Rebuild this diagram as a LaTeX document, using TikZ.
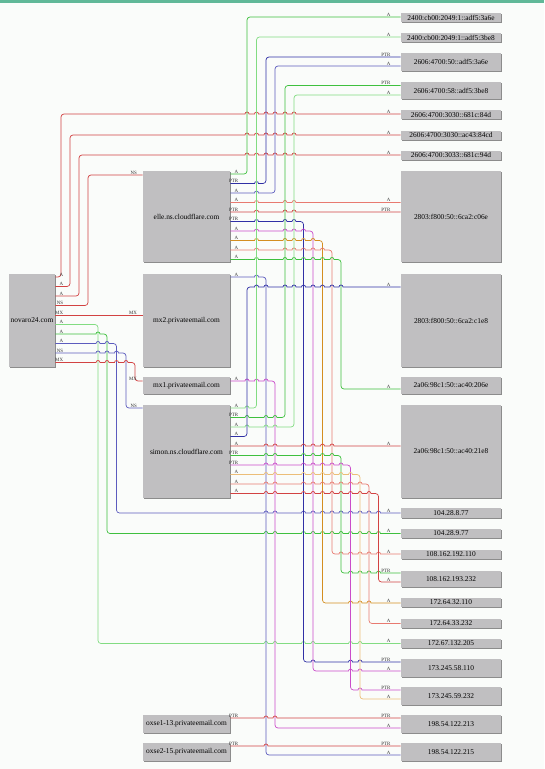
\documentclass[tikz,border=0pt]{standalone}
\usepackage{fontspec}
\setmainfont{Liberation Serif}
\usetikzlibrary{shadows}
\definecolor{paper}{RGB}{250,252,250}
\definecolor{topbar}{RGB}{96,184,152}
\definecolor{boxgray}{RGB}{192,191,193}
\definecolor{ered}{RGB}{210,66,66}
\definecolor{esalmon}{RGB}{232,122,112}
\definecolor{egreen}{RGB}{62,192,62}
\definecolor{elgreen}{RGB}{130,220,130}
\definecolor{eblue}{RGB}{48,48,165}
\definecolor{emblue}{RGB}{92,92,190}
\definecolor{emag}{RGB}{202,76,202}
\definecolor{eorange}{RGB}{212,142,32}
\definecolor{elorange}{RGB}{236,190,120}
% line jumps over the vertical runs, and rounded bends
\newcommand{\hops}[2]{\foreach \j in {#2}{-- (\j-2,#1) arc[start angle=180,end angle=0,radius=2pt]}}
\newcommand{\rdn}[2]{-- (#1-3,#2) arc[start angle=90,end angle=0,radius=3pt]}
\newcommand{\rup}[2]{-- (#1-3,#2) arc[start angle=270,end angle=360,radius=3pt]}
\newcommand{\dnr}[2]{-- (#1,#2-3) arc[start angle=180,end angle=270,radius=3pt]}
\newcommand{\upr}[2]{-- (#1,#2+3) arc[start angle=180,end angle=90,radius=3pt]}

\begin{document}
\begin{tikzpicture}[x=1pt, y=-1pt, line width=0.7pt,
  host/.style={fill=boxgray, inner sep=0pt, font=\fontsize{7.4}{8}\selectfont,
    drop shadow={shadow xshift=1pt, shadow yshift=-1pt, fill=black!45, opacity=1}},
  hostm/.style={host, minimum width=87pt},
  hostr/.style={host, minimum width=100pt},
  lab/.style={inner sep=0.4pt, text=black!80, font=\fontsize{4.9}{5}\selectfont},
  taillab/.style={lab, anchor=south east, xshift=8.5pt},
  headlab/.style={lab, anchor=south east, xshift=-9.5pt},
  headlabm/.style={lab, anchor=south east, xshift=-5pt}]
\useasboundingbox (0,0) rectangle (544,769);
\fill[paper] (0,0) rectangle (544,769);
\fill[topbar] (0,0) rectangle (544,2.5);

% hosts
\node[host, minimum width=46pt, minimum height=93pt] (nov) at (32,320.5) {novaro24.com};
\node[hostm, minimum height=91pt] (elle) at (186.5,216.5) {elle.ns.cloudflare.com};
\node[hostm, minimum height=93pt] (mxb) at (186.5,320.5) {mx2.privateemail.com};
\node[hostm, minimum height=17pt] (mxa) at (186.5,385.5) {mx1.privateemail.com};
\node[hostm, minimum height=93pt] (simon) at (186.5,451.5) {simon.ns.cloudflare.com};
\node[hostm, minimum height=18pt] (oxa) at (186.5,724) {oxse1-13.privateemail.com};
\node[hostm, minimum height=18pt] (oxb) at (186.5,752) {oxse2-15.privateemail.com};

% addresses
\node[hostr, minimum height=9pt] (v6a) at (451,17.5) {2400:cb00:2049:1::adf5:3a6e};
\node[hostr, minimum height=9pt] (v6b) at (451,37.5) {2400:cb00:2049:1::adf5:3be8};
\node[hostr, minimum height=18pt] (v6c) at (451,62) {2606:4700:50::adf5:3a6e};
\node[hostr, minimum height=17pt] (v6d) at (451,90.5) {2606:4700:58::adf5:3be8};
\node[hostr, minimum height=9pt] (v6e) at (451,114.5) {2606:4700:3030::681c:84d};
\node[hostr, minimum height=9pt] (v6f) at (451,135) {2606:4700:3030::ac43:84cd};
\node[hostr, minimum height=9pt] (v6g) at (451,155) {2606:4700:3033::681c:94d};
\node[hostr, minimum height=91pt] (v6h) at (451,216.5) {2803:f800:50::6ca2:c06e};
\node[hostr, minimum height=93pt] (v6i) at (451,320.5) {2803:f800:50::6ca2:c1e8};
\node[hostr, minimum height=17pt] (v6j) at (451,385.5) {2a06:98c1:50::ac40:206e};
\node[hostr, minimum height=93pt] (v6k) at (451,451.5) {2a06:98c1:50::ac40:21e8};
\node[hostr, minimum height=10pt] (v4a) at (451,513) {104.28.8.77};
\node[hostr, minimum height=9pt] (v4b) at (451,533.5) {104.28.9.77};
\node[hostr, minimum height=9pt] (v4c) at (451,554.5) {108.162.192.110};
\node[hostr, minimum height=16pt] (v4d) at (451,579) {108.162.193.232};
\node[hostr, minimum height=9pt] (v4e) at (451,602.5) {172.64.32.110};
\node[hostr, minimum height=9pt] (v4f) at (451,623.5) {172.64.33.232};
\node[hostr, minimum height=9pt] (v4g) at (451,643.5) {172.67.132.205};
\node[hostr, minimum height=18pt] (v4h) at (451,668) {173.245.58.110};
\node[hostr, minimum height=18pt] (v4i) at (451,696) {173.245.59.232};
\node[hostr, minimum height=18pt] (v4j) at (451,724) {198.54.122.213};
\node[hostr, minimum height=18pt] (v4k) at (451,752) {198.54.122.215};

% novaro24.com
\draw[ered] (nov.east |- 0,277) node[taillab]{A} \rup{61}{277} \upr{61}{114} \hops{114}{247,256.5,266,275,285,294} -- (v6e.west |- 0,114) node[headlab]{A};
\draw[ered] (nov.east |- 0,286.5) node[taillab]{A} \rup{70}{286.5} \upr{70}{135} \hops{135}{247,256.5,266,275,285,294} -- (v6f.west |- 0,135) node[headlab]{A};
\draw[ered] (nov.east |- 0,296) node[taillab]{A} \rup{79}{296} \upr{79}{155} \hops{155}{247,256.5,266,275,285,294} -- (v6g.west |- 0,155) node[headlab]{A};
\draw[ered] (nov.east |- 0,305.5) node[taillab]{NS} \rup{88}{305.5} \upr{88}{175} -- (elle.west |- 0,175) node[headlabm]{NS};
\draw[ered] (nov.east |- 0,315) node[taillab]{MX} -- (mxb.west |- 0,315) node[headlabm]{MX};
\draw[elgreen] (nov.east |- 0,324.5) node[taillab]{A} \rdn{98}{324.5} \dnr{98}{643.5} \hops{643.5}{266,275,303.5,313,350.5,360} -- (v4g.west |- 0,643.5) node[headlab]{A};
\draw[egreen] (nov.east |- 0,334) node[taillab]{A} \hops{334}{98} \rdn{107}{334} \dnr{107}{533.5} \hops{533.5}{266,275,303.5,313,322.5,332,341,350.5,360,369,378.5} -- (v4b.west |- 0,533.5) node[headlab]{A};
\draw[emblue] (nov.east |- 0,343.5) node[taillab]{A} \hops{343.5}{98,107} \rdn{116.5}{343.5} \dnr{116.5}{513} \hops{513}{266,275,303.5,313,322.5,332,341,350.5,360,369,378.5} -- (v4a.west |- 0,513) node[headlab]{A};
\draw[emblue] (nov.east |- 0,353) node[taillab]{NS} \hops{353}{98,107,116.5} \rdn{126}{353} \dnr{126}{408} -- (simon.west |- 0,408) node[headlabm]{NS};
\draw[ered] (nov.east |- 0,362.5) node[taillab]{MX} \hops{362.5}{98,107,116.5,126} \rdn{135}{362.5} \dnr{135}{381} -- (mxa.west |- 0,381) node[headlabm]{MX};

% elle.ns.cloudflare.com
\draw[egreen] (elle.east |- 0,174) node[taillab]{A} \rup{247}{174} \upr{247}{17} -- (v6a.west |- 0,17) node[headlab]{A};
\draw[eblue] (elle.east |- 0,183.5) node[taillab]{PTR} \hops{183.5}{256.5} \rup{266}{183.5} \upr{266}{57} -- (v6c.west |- 0,57) node[headlab]{PTR};
\draw[emblue] (elle.east |- 0,193) node[taillab]{A} \hops{193}{256.5} \rup{275}{193} \upr{275}{66} -- (v6c.west |- 0,66) node[headlab]{A};
\draw[esalmon] (elle.east |- 0,202.5) node[taillab]{A} \hops{202.5}{256.5,285,294} -- (v6h.west |- 0,202.5) node[headlab]{A};
\draw[ered] (elle.east |- 0,212) node[taillab]{PTR} \hops{212}{256.5,285,294} -- (v6h.west |- 0,212) node[headlab]{PTR};
\draw[eblue] (elle.east |- 0,221.5) node[taillab]{PTR} \hops{221.5}{256.5,285,294} \rdn{303.5}{221.5} \dnr{303.5}{662} \hops{662}{313,350.5,360} -- (v4h.west |- 0,662) node[headlab]{PTR};
\draw[emag] (elle.east |- 0,231) node[taillab]{A} \hops{231}{256.5,285,294,303.5} \rdn{313}{231} \dnr{313}{671} \hops{671}{350.5,360} -- (v4h.west |- 0,671) node[headlab]{A};
\draw[eorange] (elle.east |- 0,240.5) node[taillab]{A} \hops{240.5}{256.5,285,294,303.5,313} \rdn{322.5}{240.5} \dnr{322.5}{603} \hops{603}{350.5,360,369} -- (v4e.west |- 0,603) node[headlab]{A};
\draw[esalmon] (elle.east |- 0,250) node[taillab]{A} \hops{250}{256.5,285,294,303.5,313,322.5} \rdn{332}{250} \dnr{332}{554} \hops{554}{341,350.5,360,369,378.5} -- (v4c.west |- 0,554) node[headlab]{A};
\draw[egreen] (elle.east |- 0,259.5) node[taillab]{A} \hops{259.5}{256.5,285,294,303.5,313,322.5,332} \rdn{341}{259.5} \dnr{341}{389} -- (v6j.west |- 0,389) node[headlab]{A};

% mx2 / mx1
\draw[emblue] (mxb.east |- 0,277) node[taillab]{A} \hops{277}{256.5} \rdn{266}{277} \dnr{266}{755} -- (v4k.west |- 0,755) node[headlab]{A};
\draw[emag] (mxa.east |- 0,381) node[taillab]{A} \hops{381}{247,256.5,266} \rdn{275}{381} \dnr{275}{728} -- (v4j.west |- 0,728) node[headlab]{A};

% simon.ns.cloudflare.com
\draw[elgreen] (simon.east |- 0,408) node[taillab]{A} \hops{408}{247} \rup{256.5}{408} \upr{256.5}{37} -- (v6b.west |- 0,37) node[headlab]{A};
\draw[egreen] (simon.east |- 0,417.5) node[taillab]{PTR} \hops{417.5}{247,266,275} \rup{285}{417.5} \upr{285}{85.5} -- (v6d.west |- 0,85.5) node[headlab]{PTR};
\draw[elgreen] (simon.east |- 0,427) node[taillab]{A} \hops{427}{247,266,275} \rup{294}{427} \upr{294}{95} -- (v6d.west |- 0,95) node[headlab]{A};
\draw[eblue] (simon.east |- 0,436.5) node[taillab]{A} \rup{247}{436.5} \upr{247}{287} \hops{287}{256.5,266,285,294,303.5,313,322.5,332,341} -- (v6i.west |- 0,287) node[headlab]{A};
\draw[ered] (simon.east |- 0,446) node[taillab]{A} \hops{446}{266,275,303.5,313,322.5,332} -- (v6k.west |- 0,446) node[headlab]{A};
\draw[egreen] (simon.east |- 0,455.5) node[taillab]{PTR} \hops{455.5}{266,275,303.5,313,322.5,332} \rdn{341}{455.5} \dnr{341}{573} \hops{573}{350.5,360,369,378.5} -- (v4d.west |- 0,573) node[headlab]{PTR};
\draw[emag] (simon.east |- 0,465) node[taillab]{PTR} \hops{465}{266,275,303.5,313,322.5,332,341} \rdn{350.5}{465} \dnr{350.5}{690} \hops{690}{360} -- (v4i.west |- 0,690) node[headlab]{PTR};
\draw[elorange] (simon.east |- 0,474.5) node[taillab]{A} \hops{474.5}{266,275,303.5,313,322.5,332,341,350.5} \rdn{360}{474.5} \dnr{360}{699} -- (v4i.west |- 0,699) node[headlab]{A};
\draw[esalmon] (simon.east |- 0,484) node[taillab]{A} \hops{484}{266,275,303.5,313,322.5,332,341,350.5,360} \rdn{369}{484} \dnr{369}{623.5} -- (v4f.west |- 0,623.5) node[headlab]{A};
\draw[ered] (simon.east |- 0,493.5) node[taillab]{A} \hops{493.5}{266,275,303.5,313,322.5,332,341,350.5,360,369} \rdn{378.5}{493.5} \dnr{378.5}{582} -- (v4d.west |- 0,582) node[headlab]{A};

% oxse hosts
\draw[ered] (oxa.east |- 0,718) node[taillab]{PTR} \hops{718}{266,275} -- (v4j.west |- 0,718) node[headlab]{PTR};
\draw[ered] (oxb.east |- 0,746) node[taillab]{PTR} \hops{746}{266} -- (v4k.west |- 0,746) node[headlab]{PTR};
\end{tikzpicture}
\end{document}
